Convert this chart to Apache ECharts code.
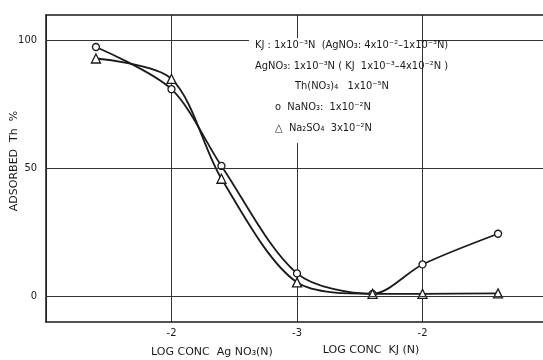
<!DOCTYPE html>
<html><head><meta charset="utf-8">
<script src="https://cdn.jsdelivr.net/npm/echarts@6/dist/echarts.min.js"></script>
<style>html,body{margin:0;padding:0;background:#fff}#c{width:543px;height:360px}</style>
</head><body><div id="c"></div>
<script>
// x position in decades from the switch point: left = AgNO3 (log c = -3 - x), right = KJ (log c = -3 + x)
const xPositions = [-1.602, -1, -0.602, 0, 0.602, 1, 1.602];
const nano3Values = [97.5, 81, 51, 9, 1, 12.5, 24.5];
const na2so4Values = [93, 85, 46, 5.5, 1, 1, 1.2];
const xTickValues = [-1, 0, 1];
const xTickTexts = ['-2', '-3', '-2'];
const yTickValues = [0, 50, 100];
const legendLines = [
  'KJ : 1x10⁻³N  (AgNO₃: 4x10⁻²–1x10⁻³N)',
  'AgNO₃: 1x10⁻³N ( KJ  1x10⁻³–4x10⁻²N )',
  'Th(NO₃)₄   1x10⁻⁵N',
  'o  NaNO₃:  1x10⁻²N',
  '△  Na₂SO₄  3x10⁻²N'
];
const font = '"Liberation Sans Narrow","DejaVu Sans Condensed","DejaVu Sans",sans-serif';
const wideFont = '"DejaVu Sans",sans-serif';
const ink = '#1a1a1a';

const chart = echarts.init(document.getElementById('c'));
const pair = vals => xPositions.map((x, i) => [x, vals[i]]);
const legendPos = [[255, 45], [255, 66], [295, 86], [275, 107], [275, 128]];

chart.setOption({
  animation: false,
  backgroundColor: '#fff',
  grid: { left: 46, right: -5, top: 15, bottom: 38, outerBoundsMode: 'none', containLabel: false },
  xAxis: [{
    type: 'value', min: -2, max: 2, interval: 1,
    axisLine: { onZero: false, lineStyle: { color: ink, width: 1.5 } },
    axisTick: { show: false },
    splitLine: { show: true, lineStyle: { color: '#333', width: 1 } },
    axisLabel: {
      margin: 6, color: ink, fontSize: 11, fontFamily: font,
      formatter: v => { const i = xTickValues.indexOf(v); return i >= 0 ? xTickTexts[i] : ''; }
    }
  }, {
    type: 'value', position: 'top', min: -2, max: 2, interval: 1,
    axisLine: { show: true, onZero: false, lineStyle: { color: ink, width: 1.5 } },
    axisTick: { show: false }, axisLabel: { show: false }, splitLine: { show: false }
  }],
  yAxis: {
    type: 'value', min: -10, max: 110, interval: 10,
    axisLine: { show: true, onZero: false, lineStyle: { color: ink, width: 1.5 } },
    axisTick: { show: false },
    splitLine: { show: false },
    axisLabel: {
      margin: 9, color: ink, fontSize: 11, fontFamily: font,
      formatter: v => yTickValues.includes(v) ? String(v) : ''
    }
  },
  series: [{
    type: 'line', data: pair(nano3Values), smooth: 0.3,
    symbol: 'circle', symbolSize: 7,
    lineStyle: { color: ink, width: 1.8 },
    itemStyle: { color: '#fff', borderColor: ink, borderWidth: 1.3 },
    markLine: {
      silent: true, symbol: 'none', label: { show: false },
      lineStyle: { color: '#333', width: 1, type: 'solid' },
      data: yTickValues.map(v => ({ yAxis: v }))
    },
    z: 3
  }, {
    type: 'line', data: pair(na2so4Values), smooth: 0.3,
    symbol: 'triangle', symbolSize: 9,
    lineStyle: { color: ink, width: 1.8 },
    itemStyle: { color: '#fff', borderColor: ink, borderWidth: 1.3 },
    z: 3
  }],
  graphic: [
    { type: 'rect', z: 50, shape: { x: 249, y: 38, width: 168, height: 105 }, style: { fill: '#fff' } },
    ...legendLines.map((t, i) => ({
      type: 'text', z: 60, x: legendPos[i][0], y: legendPos[i][1],
      style: { text: t, fill: ink, font: '11px ' + font, textVerticalAlign: 'middle' }
    })),
    { type: 'text', z: 60, x: 14, y: 161, rotation: Math.PI / 2,
      style: { text: 'ADSORBED  Th  %', fill: ink, font: '11px ' + wideFont, textAlign: 'center', textVerticalAlign: 'middle' } },
    { type: 'text', z: 60, x: 212, y: 352,
      style: { text: 'LOG CONC  Ag NO₃(N)', fill: ink, font: '11px ' + wideFont, textAlign: 'center', textVerticalAlign: 'middle' } },
    { type: 'text', z: 60, x: 371, y: 350,
      style: { text: 'LOG CONC  KJ (N)', fill: ink, font: '11px ' + wideFont, textAlign: 'center', textVerticalAlign: 'middle' } }
  ]
});
</script></body></html>
